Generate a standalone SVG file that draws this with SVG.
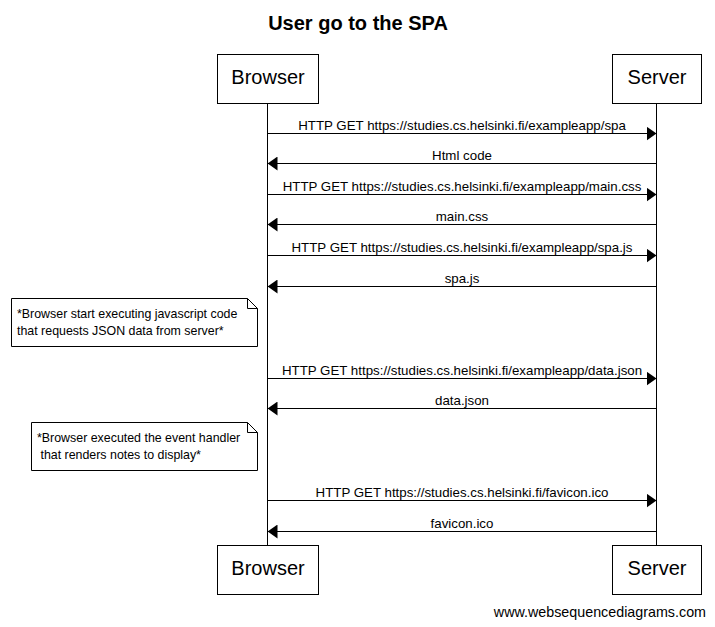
<svg xmlns="http://www.w3.org/2000/svg" width="715" height="627" viewBox="0 0 715 627">
<defs>
<marker id="ah" markerWidth="10" markerHeight="14" refX="10" refY="7" orient="auto" markerUnits="userSpaceOnUse">
<path d="M0,0 L10,7 L0,14 Z" fill="#000"/>
</marker>
<style>
text{font-family:"Liberation Sans",Arial,sans-serif;fill:#000}
.box{fill:#fff;stroke:#000;stroke-width:1}
.pt{font-size:20px;text-anchor:middle}
.msg{font-size:13.3px;text-anchor:middle}
.note{font-size:12.4px}
.life{stroke:#000;stroke-width:1}
.arr{stroke:#000;stroke-width:1;fill:none;marker-end:url(#ah)}
</style>
</defs>
<rect width="715" height="627" fill="#fff"/>
<text x="358" y="30" style="font-size:20px;font-weight:bold" text-anchor="middle">User go to the SPA</text>
<g id="lifelines">
<line class="life" x1="267.5" y1="103" x2="267.5" y2="545"/>
<line class="life" x1="656.5" y1="103" x2="656.5" y2="545"/>
</g>
<g id="browser">
<rect class="box" x="217.5" y="54.5" width="101" height="49"/>
<text class="pt" x="268" y="84">Browser</text>
</g>
<g id="server">
<rect class="box" x="612.5" y="54.5" width="89" height="49"/>
<text class="pt" x="657" y="84">Server</text>
</g>
<g id="browser-bottom">
<rect class="box" x="217.5" y="545.5" width="101" height="49"/>
<text class="pt" x="268" y="575">Browser</text>
</g>
<g id="server-bottom">
<rect class="box" x="612.5" y="545.5" width="89" height="49"/>
<text class="pt" x="657" y="575">Server</text>
</g>
<g id="connectors">
<line class="arr" x1="267.5" y1="133.5" x2="656.5" y2="133.5"/>
<text class="msg" x="462" y="130">HTTP GET https://studies.cs.helsinki.fi/exampleapp/spa</text>
<line class="arr" x1="656.5" y1="163.5" x2="267.5" y2="163.5"/>
<text class="msg" x="462" y="160">Html code</text>
<line class="arr" x1="267.5" y1="194.5" x2="656.5" y2="194.5"/>
<text class="msg" x="462" y="191">HTTP GET https://studies.cs.helsinki.fi/exampleapp/main.css</text>
<line class="arr" x1="656.5" y1="224.5" x2="267.5" y2="224.5"/>
<text class="msg" x="462" y="221">main.css</text>
<line class="arr" x1="267.5" y1="255.5" x2="656.5" y2="255.5"/>
<text class="msg" x="462" y="252">HTTP GET https://studies.cs.helsinki.fi/exampleapp/spa.js</text>
<line class="arr" x1="656.5" y1="286.5" x2="267.5" y2="286.5"/>
<text class="msg" x="462" y="283">spa.js</text>
<line class="arr" x1="267.5" y1="378.5" x2="656.5" y2="378.5"/>
<text class="msg" x="462" y="375">HTTP GET https://studies.cs.helsinki.fi/exampleapp/data.json</text>
<line class="arr" x1="656.5" y1="408.5" x2="267.5" y2="408.5"/>
<text class="msg" x="462" y="405">data.json</text>
<line class="arr" x1="267.5" y1="500.5" x2="656.5" y2="500.5"/>
<text class="msg" x="462" y="497">HTTP GET https://studies.cs.helsinki.fi/favicon.ico</text>
<line class="arr" x1="656.5" y1="531.5" x2="267.5" y2="531.5"/>
<text class="msg" x="462" y="528">favicon.ico</text>
</g>
<g id="note1">
<path class="box" d="M11.5,298.5 H247.5 L257.5,308.5 V346.5 H11.5 Z"/>
<path d="M247.5,298.5 V308.5 H257.5" fill="none" stroke="#000"/>
<text class="note" x="17" y="318">*Browser start executing javascript code</text>
<text class="note" x="17" y="335">that requests JSON data from server*</text>
</g>
<g id="note2">
<path class="box" d="M31.5,422.5 H247.5 L257.5,432.5 V470.5 H31.5 Z"/>
<path d="M247.5,422.5 V432.5 H257.5" fill="none" stroke="#000"/>
<text class="note" x="37" y="442">*Browser executed the event handler</text>
<text class="note" x="37" y="459" xml:space="preserve"> that renders notes to display*</text>
</g>
<text x="706" y="617" style="font-size:14.3px" text-anchor="end">www.websequencediagrams.com</text>
</svg>
